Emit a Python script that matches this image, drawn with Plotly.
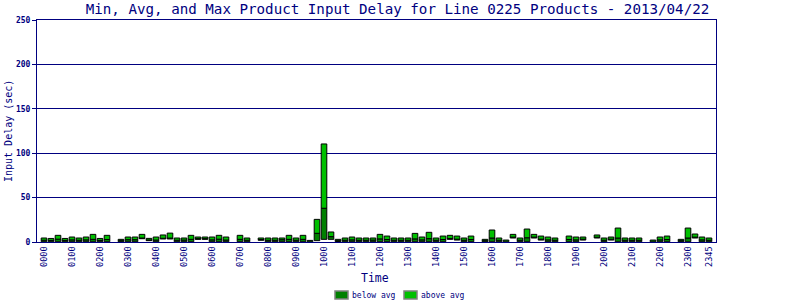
import plotly.graph_objects as go

# ---------------- data ----------------
slots = list(range(96))
tick_slots = [0, 4, 8, 12, 16, 20, 24, 28, 32, 36, 40, 44, 48, 52, 56, 60,
              64, 68, 72, 76, 80, 84, 88, 92, 95]
tick_labels = ["0000", "0100", "0200", "0300", "0400", "0500", "0600", "0700",
               "0800", "0900", "1000", "1100", "1200", "1300", "1400", "1500",
               "1600", "1700", "1800", "1900", "2000", "2100", "2200", "2300", "2345"]

min_delay = [0.3, 0.3, 0.3, 0.3, 0.3, 0.3, 0.3, 0.3, 0.3, 0.3, None, 0.3,
             0.3, 0.3, 3.7, 1.5, 0.3, 3.4, 3.4, 0.3, 0.3, 0.3, 3.0, 3.0,
             0.3, 0.3, 0.3, None, 0.3, 0.3, None, 1.9, 0.3, 0.3, 0.3, 0.3,
             0.3, 0.3, 0.2, 1.5, 3.0, 3.0, 0.5, 0.3, 0.3, 0.3, 0.3, 0.3,
             0.3, 0.3, 0.3, 0.3, 0.3, 0.3, 0.3, 0.3, 0.3, 0.3, 3.0, 2.2,
             0.3, 0.3, None, 0.3, 0.3, 0.3, 0.2, 4.5, 0.3, 0.3, 4.5, 2.2,
             0.3, 0.3, None, 0.3, 0.3, 2.2, None, 4.5, 0.3, 2.2, 0.3, 0.3,
             0.3, 0.3, None, 0.2, 0.3, 0.3, None, 0.3, 0.3, 4.5, 0.3, 0.3]

avg_delay = [2.0, 1.8, 3.2, 1.8, 2.4, 2.0, 2.4, 3.0, 1.8, 2.8, None, 1.5,
             2.6, 2.6, 4.5, 2.3, 2.2, 4.2, 4.4, 2.0, 2.2, 3.0, 3.8, 3.8,
             2.4, 3.2, 2.2, None, 3.0, 2.0, None, 2.8, 2.0, 2.0, 2.6, 3.0,
             2.0, 3.0, 1.8, 9.8, 38.0, 6.0, 1.5, 2.0, 2.4, 2.0, 2.0, 2.2,
             3.5, 2.8, 2.0, 2.0, 2.0, 3.5, 2.4, 3.8, 2.0, 2.8, 4.0, 3.2,
             2.0, 2.8, None, 1.5, 4.5, 2.0, 2.2, 5.5, 2.0, 4.8, 5.5, 3.2,
             2.4, 2.0, None, 2.8, 2.4, 3.2, None, 5.4, 2.0, 3.2, 4.5, 2.0,
             2.0, 2.0, None, 2.2, 2.4, 2.8, None, 1.5, 4.5, 5.5, 2.4, 2.0]

max_delay = [4.5, 4.0, 7.5, 4.0, 5.6, 4.5, 5.6, 8.6, 4.0, 7.5, None, 3.0,
             5.6, 5.6, 8.6, 4.1, 5.6, 7.9, 10.0, 4.5, 4.5, 7.5, 5.6, 5.6,
             5.6, 7.5, 5.6, None, 7.5, 4.5, None, 4.5, 4.5, 4.5, 4.5, 7.5,
             4.5, 7.5, 1.8, 25.5, 110.4, 11.3, 3.0, 4.5, 5.6, 4.5, 4.5, 4.5,
             8.6, 6.7, 4.5, 4.5, 4.5, 9.7, 5.6, 10.9, 4.5, 6.7, 7.5, 6.7,
             4.5, 6.7, None, 3.0, 13.5, 4.5, 2.2, 8.6, 4.5, 14.6, 8.6, 6.7,
             5.6, 4.5, None, 6.7, 5.6, 5.6, None, 7.9, 4.5, 5.6, 15.7, 4.5,
             4.5, 4.5, None, 2.2, 5.6, 6.7, None, 3.0, 15.7, 9.0, 5.6, 4.5]

# ---------------- derived ----------------
below_h = [(a - m) if (a is not None and m is not None) else None
           for a, m in zip(avg_delay, min_delay)]
above_h = [(x - a) if (x is not None and a is not None and x - a > 0.05) else None
           for x, a in zip(max_delay, avg_delay)]

NAVY = "#000080"
DARK = "#008000"
LIGHT = "#00C000"
MONO = "DejaVu Sans Mono"

W, H = 800, 300
L, R, T, B = 37, 84, 20, 58
PW, PH = W - L - R, H - T - B


def px(xp):
    return (xp - L) / PW


def py(yp):
    return (H - B - yp) / PH


fig = go.Figure()
fig.add_trace(go.Bar(x=slots, y=below_h, base=min_delay, name="below avg",
                     width=0.8, marker=dict(color=DARK, line=dict(color="black", width=1)),
                     showlegend=False))
fig.add_trace(go.Bar(x=slots, y=above_h, base=avg_delay, name="above avg",
                     width=0.8, marker=dict(color=LIGHT, line=dict(color="black", width=1)),
                     showlegend=False))

fig.update_layout(
    width=W, height=H, autosize=False,
    margin=dict(l=L, r=R, t=T, b=B, pad=0),
    paper_bgcolor="white", plot_bgcolor="white",
    barmode="overlay",
    title=dict(text="Min, Avg, and Max Product Input Delay for Line 0225 Products - 2013/04/22",
               x=(397.5 / W), xanchor="center", y=1 - 9 / H, yanchor="middle",
               font=dict(family=MONO, size=14.2, color=NAVY)),
    xaxis=dict(range=[-1, 96], tickmode="array", tickvals=tick_slots, ticktext=tick_labels,
               tickangle=-90, tickfont=dict(family=MONO, size=8.5, color=NAVY),
               showgrid=False, zeroline=False, showline=True, linecolor=NAVY,
               linewidth=1, mirror=True, ticks=""),
    yaxis=dict(range=[0, 250], tickmode="array", tickvals=[0, 50, 100, 150, 200, 250],
               tickfont=dict(family=MONO, size=8, color=NAVY, weight="bold"),
               showgrid=True, gridcolor=NAVY, gridwidth=1, zeroline=False,
               showline=True, linecolor=NAVY, linewidth=1, mirror=True,
               ticks="outside", ticklen=4, tickcolor=NAVY, tickwidth=1),
    showlegend=False,
)

# axis titles
fig.add_annotation(text="Input Delay (sec)", xref="paper", yref="paper",
                   x=px(8), y=py(131), textangle=-90, showarrow=False,
                   xanchor="center", yanchor="middle",
                   font=dict(family=MONO, size=10, color=NAVY))
fig.add_annotation(text="Time", xref="paper", yref="paper",
                   x=px(375), y=py(278), showarrow=False,
                   xanchor="center", yanchor="middle",
                   font=dict(family=MONO, size=11.5, color=NAVY))

# legend
fig.add_shape(type="rect", xref="paper", yref="paper",
              x0=px(335), x1=px(348), y0=py(299), y1=py(291),
              fillcolor=DARK, line=dict(color="#808080", width=1.5))
fig.add_shape(type="rect", xref="paper", yref="paper",
              x0=px(404), x1=px(417), y0=py(299), y1=py(291),
              fillcolor=LIGHT, line=dict(color="#808080", width=1.5))
fig.add_annotation(text="below avg", xref="paper", yref="paper",
                   x=px(350), y=py(295), showarrow=False,
                   xanchor="left", yanchor="middle",
                   font=dict(family=MONO, size=8, color=NAVY))
fig.add_annotation(text="above avg", xref="paper", yref="paper",
                   x=px(419), y=py(295), showarrow=False,
                   xanchor="left", yanchor="middle",
                   font=dict(family=MONO, size=8, color=NAVY))

fig.write_html("out.html")
